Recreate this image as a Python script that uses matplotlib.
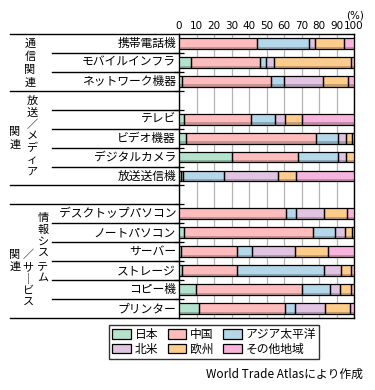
import matplotlib
matplotlib.use('Agg')
import matplotlib.pyplot as plt
from matplotlib.patches import Patch
import numpy as np

plt.rcParams['font.family'] = ['Noto Sans CJK JP', 'DejaVu Sans']

# data (% share of exports by destination)
categories = ['携帯電話機', 'モバイルインフラ', 'ネットワーク機器', '',
              'テレビ', 'ビデオ機器', 'デジタルカメラ', '放送送信機', '',
              'デスクトップパソコン', 'ノートパソコン', 'サーバー', 'ストレージ',
              'コピー機', 'プリンター']
regions = ['日本', '中国', 'アジア太平洋', '北米', '欧州', 'その他地域']
japan = [0, 7.0, 1.9, 0, 3.0, 4.2, 30.4, 1.1, 0, 0, 3.0, 1.0, 1.5, 9.5, 11.2]
china = [44.7, 39.4, 50.8, 0, 38.2, 74.1, 37.6, 1.3, 0, 61.2, 73.6, 31.9, 31.4, 60.8, 49.4]
asia = [29.7, 3.4, 7.4, 0, 13.7, 12.5, 22.8, 23.4, 0, 5.7, 12.5, 8.6, 50.0, 16.2, 5.7]
namerica = [3.4, 4.6, 22.2, 0, 5.7, 4.6, 4.6, 30.8, 0, 16.0, 5.7, 24.9, 9.9, 5.7, 17.1]
europe = [16.5, 43.9, 14.4, 0, 9.7, 3.2, 4.6, 10.3, 0, 13.1, 4.0, 18.8, 5.7, 6.3, 14.3]
others = [5.7, 1.7, 3.2, 0, 29.7, 1.3, 0, 33.1, 0, 4.0, 1.1, 14.8, 1.5, 1.5, 2.3]
xticks = [0, 10, 20, 30, 40, 50, 60, 70, 80, 90, 100]

colors = ['#b4e2cc', '#ffbcbc', '#b4d8ea', '#e0c4e2', '#ffcc8c', '#f8b4dc']
series = [japan, china, asia, namerica, europe, others]

fig = plt.figure(figsize=(3.75, 3.9), dpi=100)
ax = fig.add_axes([179/375, 1 - 318/390, 175/375, 284/390])

n = len(categories)
y = np.arange(n) + 0.5
h = 0.57
left = np.zeros(n)
for vals, c in zip(series, colors):
    vals = np.array(vals, dtype=float)
    m = vals > 0
    dark = tuple(v * 0.78 for v in matplotlib.colors.to_rgb(c))
    ax.barh(y[m], vals[m], left=left[m], height=h, color=c, lw=0, zorder=3)
    # darker bottom strip
    ax.barh(y[m] + h/2 - 0.06, vals[m], left=left[m], height=0.12,
            color=dark, lw=0, zorder=3)
    ax.barh(y[m], vals[m], left=left[m], height=h, facecolor='none',
            edgecolor='black', lw=0.9, zorder=4)
    left += vals

ax.set_xlim(0, 100)
ax.set_ylim(n, 0)
ax.xaxis.tick_top()
ax.set_xticks(xticks)
ax.set_xticklabels([str(t) for t in xticks], fontsize=7.5, family='DejaVu Sans')
ax.tick_params(axis='x', length=0, pad=2)
ax.grid(axis='x', color='#b4b4b4', lw=0.9, zorder=0)
ax.set_yticks(np.arange(1, n))
ax.set_yticklabels([])
ax.tick_params(axis='y', direction='inout', length=7, width=0.9)
for s in ax.spines.values():
    s.set_linewidth(1.0)

# row labels
for yi, lab in zip(y, categories):
    if lab:
        ax.text(-0.017, yi, lab, transform=ax.get_yaxis_transform(),
                ha='right', va='center', fontsize=8.5)

# separator lines in the label column
tr = ax.get_yaxis_transform()
x_full = (10 - 179) / 175
x_inner = (52 - 179) / 175
for yy in [0, 3, 8, 9, 15]:
    ax.plot([x_full, 0], [yy, yy], color='black', lw=1.0, transform=tr, clip_on=False)
for yy in [1, 2, 4, 5, 6, 7, 10, 11, 12, 13, 14]:
    ax.plot([x_inner, 0], [yy, yy], color='black', lw=1.0, transform=tr, clip_on=False)

# vertical group labels (pixel positions)
def vtext(chars, x, ys):
    for ch, yy in zip(chars, ys):
        fig.text(x / 375, 1 - yy / 390, ch, ha='center', va='center', fontsize=8)

vtext('通信関連', 30, [44, 57, 70, 83])
vtext(['放', '送', '／', 'メ', 'デ', 'ィ', 'ア'], 32, [101, 113, 125, 136, 148, 160, 172])
vtext('関連', 15, [132, 145])
vtext(['情', '報', 'シ', 'ス', 'テ', 'ム'], 43, [218, 230, 242, 254, 266, 278])
vtext(['／', 'サ', '｜', 'ビ', 'ス'], 28, [255, 267, 279, 291, 303])
vtext('関連', 15, [255, 267])

fig.text(355 / 375, 1 - 15 / 390, '(%)', ha='center', va='center', fontsize=7.5,
         family='DejaVu Sans')

# legend (column-major order)
order = [0, 3, 1, 4, 2, 5]
handles = [Patch(facecolor=colors[i], edgecolor='black', lw=0.9) for i in order]
labels = [regions[i] for i in order]
leg = fig.legend(handles, labels, ncol=3, loc='center',
                 bbox_to_anchor=(214 / 375, 1 - 342 / 390), fontsize=8.5,
                 frameon=True, fancybox=False, edgecolor='black',
                 handlelength=1.6, handleheight=0.8, columnspacing=0.8,
                 handletextpad=0.3, labelspacing=0.15, borderpad=0.3)
leg.get_frame().set_linewidth(1.0)

fig.text(363 / 375, 1 - 374 / 390, 'World Trade Atlasにより作成', ha='right',
         va='center', fontsize=8.5)

fig.savefig('out.png', dpi=100)
